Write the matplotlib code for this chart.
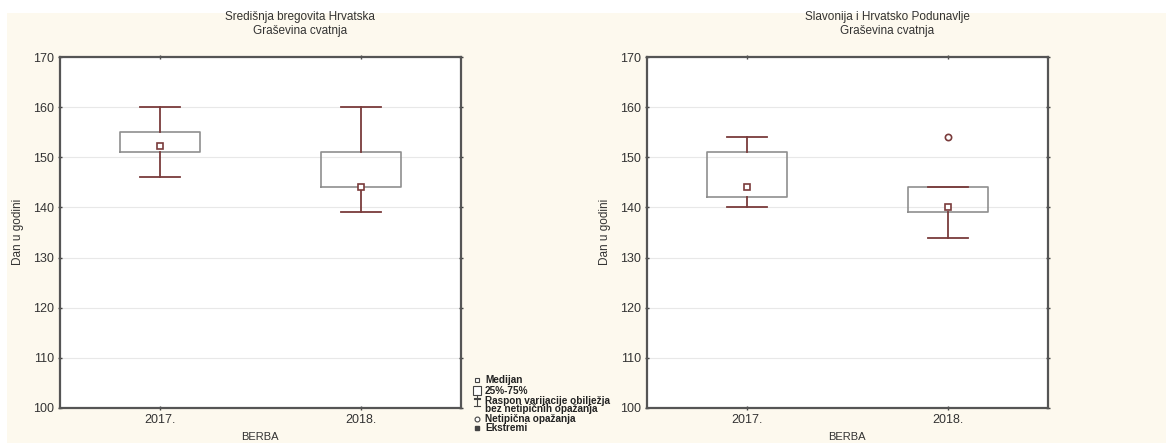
import matplotlib.pyplot as plt
from matplotlib.patches import Rectangle

plt.rcParams['font.family'] = ['Liberation Sans', 'DejaVu Sans']

years = ["2017.", "2018."]
titles = ["Središnja bregovita Hrvatska\nGraševina cvatnja",
          "Slavonija i Hrvatsko Podunavlje\nGraševina cvatnja"]

# per region: [2017, 2018]
sred_median = [152.3, 144]
sred_q1 = [151, 144]
sred_q3 = [155, 151]
sred_low = [146, 139]
sred_high = [160, 160]
sred_out = [[], []]

slav_median = [144, 140]
slav_q1 = [142, 139]
slav_q3 = [151, 144]
slav_low = [140, 134]
slav_high = [154, 144]
slav_out = [[], [154]]

legend_labels = ["Medijan", "25%-75%", "Raspon varijacije obilježja",
                 "bez netipičnih opažanja", "Netipična opažanja", "Ekstremi"]

bg = "#fdf9ee"
whisk_col = "#7a3b3b"
box_col = "#8f8f8f"

fig = plt.figure(figsize=(11.66, 4.43), dpi=100)
fig.patch.set_facecolor("white")
fig.add_artist(Rectangle((0.006, 0), 0.994, 1 - 13 / 443, transform=fig.transFigure,
                         facecolor=bg, edgecolor="none", zorder=-10))

regions = [
    (sred_median, sred_q1, sred_q3, sred_low, sred_high, sred_out),
    (slav_median, slav_q1, slav_q3, slav_low, slav_high, slav_out),
]
lefts = [60 / 1166, 647 / 1166]

for i, (med, q1, q3, lo, hi, out) in enumerate(regions):
    ax = fig.add_axes([lefts[i], 1 - 408 / 443, 401 / 1166, 351 / 443])
    ax.set_facecolor("white")
    stats = []
    for j in range(2):
        stats.append(dict(med=med[j], q1=q1[j], q3=q3[j], whislo=lo[j], whishi=hi[j],
                          fliers=out[j], label=years[j]))
    ax.bxp(stats, positions=[1, 2], widths=0.4, showfliers=False, showcaps=True,
           boxprops=dict(color=box_col, linewidth=1.2),
           whiskerprops=dict(color=whisk_col, linewidth=1.3),
           capprops=dict(color=whisk_col, linewidth=1.3),
           medianprops=dict(linewidth=0), capwidths=0.2, zorder=3)
    ax.plot([1, 2], med, linestyle="none", marker="s", markersize=5,
            markerfacecolor="white", markeredgecolor=whisk_col, markeredgewidth=1.2, zorder=4)
    for j in range(2):
        for v in out[j]:
            ax.plot(j + 1, v, linestyle="none", marker="o", markersize=4.5,
                    markerfacecolor="white", markeredgecolor=whisk_col, markeredgewidth=1.2, zorder=4)
    ax.set_xlim(0.5, 2.5)
    ax.set_ylim(100, 170)
    ax.set_yticks(range(100, 171, 10))
    ax.set_xticks([1, 2])
    ax.set_xticklabels(years)
    ax.yaxis.grid(True, color="#e8e8e8", linewidth=0.8)
    ax.set_axisbelow(True)
    ax.tick_params(direction="inout", length=3, width=1, color="#444444",
                   labelsize=9, labelcolor="#333333", top=True, right=True, pad=3)
    for s in ax.spines.values():
        s.set_color("#555555")
        s.set_linewidth(1.6)
    cx = lefts[i] + 240 / 1166
    fig.text(cx, 1 - 24 / 443, titles[i], ha="center", va="center", fontsize=8.5,
             color="#333333", linespacing=1.15)
    fig.text(lefts[i] - 42 / 1166, 1 - 232 / 443, "Dan u godini", rotation=90,
             ha="center", va="center", fontsize=8.5, color="#333333")
    fig.text(lefts[i] + 200 / 1166, 1 / 443, "BERBA", ha="center", va="bottom",
             fontsize=8, color="#333333")

# legend
leg_ax = fig.add_axes([0, 0, 1, 1], facecolor="none")
leg_ax.set_xlim(0, 1166)
leg_ax.set_ylim(443, 0)
leg_ax.axis("off")
ic = "#444444"
leg_ax.plot(477, 380, marker="s", markersize=3.5, markerfacecolor="white",
            markeredgecolor=ic, markeredgewidth=0.8)
leg_ax.add_patch(Rectangle((473, 386), 8, 9, facecolor="white", edgecolor=ic, linewidth=0.8))
leg_ax.plot([477, 477], [395, 398], color=ic, linewidth=0.8)
leg_ax.plot([474, 480], [398, 398], color=ic, linewidth=0.8)
leg_ax.plot([474, 480], [399, 399], color=ic, linewidth=0.8)
leg_ax.plot([477, 477], [399, 406], color=ic, linewidth=0.8)
leg_ax.plot([474, 480], [406, 406], color=ic, linewidth=0.8)
leg_ax.plot(477, 419, marker="o", markersize=3.5, markerfacecolor="white",
            markeredgecolor=ic, markeredgewidth=0.8)
leg_ax.plot(477, 428, marker="s", markersize=3, markerfacecolor=ic,
            markeredgecolor=ic)
text_y = [380, 390.5, 400.5, 409.5, 419, 428]
for lab, y in zip(legend_labels, text_y):
    leg_ax.text(485, y, lab, ha="left", va="center", fontsize=7.2, fontweight="bold",
                color="#222222")

fig.savefig("out.png", dpi=100, facecolor=fig.get_facecolor())
